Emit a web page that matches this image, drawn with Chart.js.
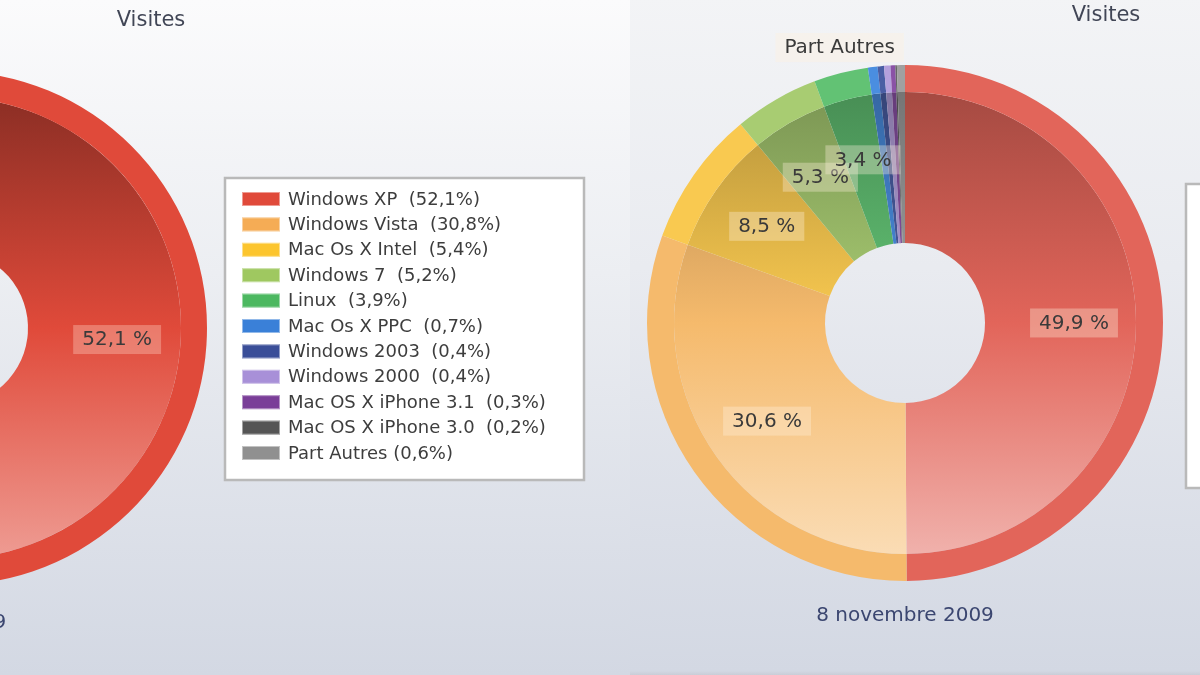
<!DOCTYPE html>
<html>
<head>
<meta charset="utf-8">
<title>Visites</title>
<script src="https://cdn.jsdelivr.net/npm/chart.js@4.4.1/dist/chart.umd.min.js"></script>
<style>
  html, body { margin: 0; padding: 0; width: 1200px; height: 675px; overflow: hidden; background: #d5d9e3; }
  .panel { position: absolute; width: 955px; height: 680px; }
  #panel-left  { left: -325px; top: 0;    background: linear-gradient(#fbfbfc 0%, #eceef2 40%, #d3d8e3 99.4%, #c9cdd7 100%); }
  #panel-right { left: 630px;  top: -5px; background: linear-gradient(#f3f4f6 0%, #e9ebf0 40%, #d3d8e3 99.4%, #c9cdd7 100%); }
  canvas { display: block; }
</style>
</head>
<body>
<div class="panel" id="panel-left"><canvas id="chart-left" width="955" height="680"></canvas></div>
<div class="panel" id="panel-right"><canvas id="chart-right" width="955" height="680"></canvas></div>

<script>
// ── Data ──────────────────────────────────────────────────────────────────────

const LABELS = [
  'Windows XP', 'Windows Vista', 'Mac Os X Intel', 'Windows 7', 'Linux',
  'Mac Os X PPC', 'Windows 2003', 'Windows 2000', 'Mac OS X iPhone 3.1',
  'Mac OS X iPhone 3.0', 'Part Autres'
];
const VALUES_LEFT  = [52.1, 30.8, 5.4, 5.2, 3.9, 0.7, 0.4, 0.4, 0.3, 0.2, 0.6];
const VALUES_RIGHT = [49.9, 30.6, 8.5, 5.3, 3.4, 0.6, 0.4, 0.4, 0.3, 0.1, 0.5];

const TITLE = 'Visites';
const DATE_LEFT = 'Juillet 2009';
const DATE_RIGHT = '8 novembre 2009';

const COLORS_LEFT = [
  '#e04a3a', '#f5ac55', '#fcc52e', '#9fc860', '#4cb860',
  '#3a80d8', '#3a4e98', '#a890d8', '#7a3e98', '#555555', '#909090'
];
const COLORS_RIGHT = [
  '#e2655a', '#f5ba6c', '#f9c950', '#a8cc72', '#62c274',
  '#4a8ee0', '#4a5ea4', '#b4a0dc', '#8a52a6', '#666666', '#a0a0a0'
];

// ── Helpers ───────────────────────────────────────────────────────────────────

const FONT = "'DejaVu Sans', 'Liberation Sans', sans-serif";
const W = 955, H = 680, CX = 275, CY = 328;

function rgb(hex) {
  const n = parseInt(hex.slice(1), 16);
  return [(n >> 16) & 255, (n >> 8) & 255, n & 255];
}

function mix(hex, target, t) {
  const a = rgb(hex), b = rgb(target);
  const c = a.map((v, i) => Math.round(v + (b[i] - v) * t));
  return `rgb(${c[0]},${c[1]},${c[2]})`;
}

const fmt = v => v.toFixed(1).replace('.', ',');

// ── Text, labels and legend drawn on top of the doughnut ─────────────────────

const panelText = {
  id: 'panelText',
  afterDraw(chart, args, opts) {
    const ctx = chart.ctx;
    const values = chart.data.datasets[0].data;
    const outer = chart.getDatasetMeta(0).data;
    const inner = chart.getDatasetMeta(1).data;

    ctx.save();
    ctx.textBaseline = 'middle';

    // slice labels
    ctx.font = `20px ${FONT}`;
    values.forEach((v, i) => {
      const a = inner[i].getProps(['x', 'y', 'startAngle', 'endAngle', 'innerRadius']);
      const R = outer[i].getProps(['outerRadius']).outerRadius;
      const mid = (a.startAngle + a.endAngle) / 2;
      let text, tx, ty, align;
      if (LABELS[i] === 'Part Autres') {
        text = LABELS[i];
        tx = a.x + Math.cos(mid) * R - 6;
        ty = a.y + Math.sin(mid) * R - 18;
        align = 'right';
      } else if (v >= 3) {
        const r = (a.innerRadius + R) / 2;
        text = fmt(v) + ' %';
        tx = a.x + Math.cos(mid) * r;
        ty = a.y + Math.sin(mid) * r;
        align = 'center';
      } else {
        return;
      }
      const w = ctx.measureText(text).width;
      const bx = align === 'center' ? tx - w / 2 : tx - w;
      ctx.fillStyle = opts.labelBox;
      ctx.fillRect(bx - 9, ty - 14, w + 18, 29);
      ctx.fillStyle = '#3a3a3a';
      ctx.textAlign = 'left';
      ctx.fillText(text, bx, ty + 1);
    });

    // title
    ctx.textAlign = 'center';
    ctx.font = `21px ${FONT}`;
    ctx.fillStyle = '#414656';
    ctx.fillText(TITLE, 476, 21);

    // date under the doughnut
    ctx.font = `20px ${FONT}`;
    ctx.fillStyle = '#3b4670';
    ctx.fillText(opts.date, chart.getDatasetMeta(0).data[0].x, opts.dateY);

    // legend
    const b = opts.legendBox;
    ctx.fillStyle = '#ffffff';
    ctx.fillRect(b.x, b.y, b.w, b.h);
    ctx.strokeStyle = '#b9b9b9';
    ctx.lineWidth = 2.5;
    ctx.strokeRect(b.x, b.y, b.w, b.h);
    ctx.font = `18px ${FONT}`;
    ctx.textAlign = 'left';
    LABELS.forEach((name, i) => {
      const y = b.y + 21 + i * 25.4;
      const col = chart.data.datasets[0].backgroundColor[i];
      ctx.fillStyle = col;
      ctx.fillRect(b.x + 17, y - 7, 38, 14);
      ctx.strokeStyle = 'rgba(255,255,255,0.45)';
      ctx.lineWidth = 1;
      ctx.strokeRect(b.x + 17.5, y - 6.5, 37, 13);
      ctx.fillStyle = '#3d3d3d';
      const sep = name === 'Part Autres' ? ' ' : '  ';
      ctx.fillText(`${name}${sep}(${fmt(values[i])}%)`, b.x + 63, y + 1);
    });
    ctx.restore();
  }
};

// ── Doughnut with an outer flat band and a shaded inner ring ─────────────────

function makeChart(id, values, colors, cfg) {
  const R = cfg.R;
  return new Chart(document.getElementById(id), {
    type: 'doughnut',
    data: {
      labels: LABELS,
      datasets: [
        {
          data: values,
          backgroundColor: colors,
          borderWidth: 0,
          weight: cfg.band,
        },
        {
          data: values,
          borderWidth: 0,
          weight: R - cfg.hole - cfg.band,
          backgroundColor: ctx => {
            const ch = ctx.chart, a = ch.chartArea;
            const base = colors[ctx.dataIndex];
            if (!a) return base;
            const g = ch.ctx.createLinearGradient(0, a.top, 0, a.bottom);
            g.addColorStop(0, mix(base, '#000000', cfg.dark));
            g.addColorStop(0.5, base);
            g.addColorStop(1, mix(base, '#ffffff', cfg.light));
            return g;
          },
        },
      ],
    },
    options: {
      responsive: false,
      devicePixelRatio: 1,
      animation: false,
      events: [],
      cutout: cfg.hole,
      layout: {
        padding: { left: CX - R, top: CY - R, right: W - CX - R, bottom: H - CY - R },
      },
      plugins: {
        legend: { display: false },
        tooltip: { enabled: false },
        title: { display: false },
        panelText: {
          date: cfg.date,
          dateY: cfg.dateY,
          legendBox: cfg.legendBox,
          labelBox: cfg.labelBox,
        },
      },
    },
    plugins: [panelText],
  });
}

makeChart('chart-left', VALUES_LEFT, COLORS_LEFT, {
  R: 257, hole: 78, band: 26, dark: 0.42, light: 0.5,
  date: DATE_LEFT, dateY: 623,
  legendBox: { x: 550, y: 178, w: 359, h: 302 },
  labelBox: 'rgba(255,215,200,0.35)',
});

makeChart('chart-right', VALUES_RIGHT, COLORS_RIGHT, {
  R: 258, hole: 80, band: 27, dark: 0.3, light: 0.55,
  date: DATE_RIGHT, dateY: 621,
  legendBox: { x: 556, y: 189, w: 359, h: 304 },
  labelBox: 'rgba(255,240,220,0.35)',
});
</script>
</body>
</html>
